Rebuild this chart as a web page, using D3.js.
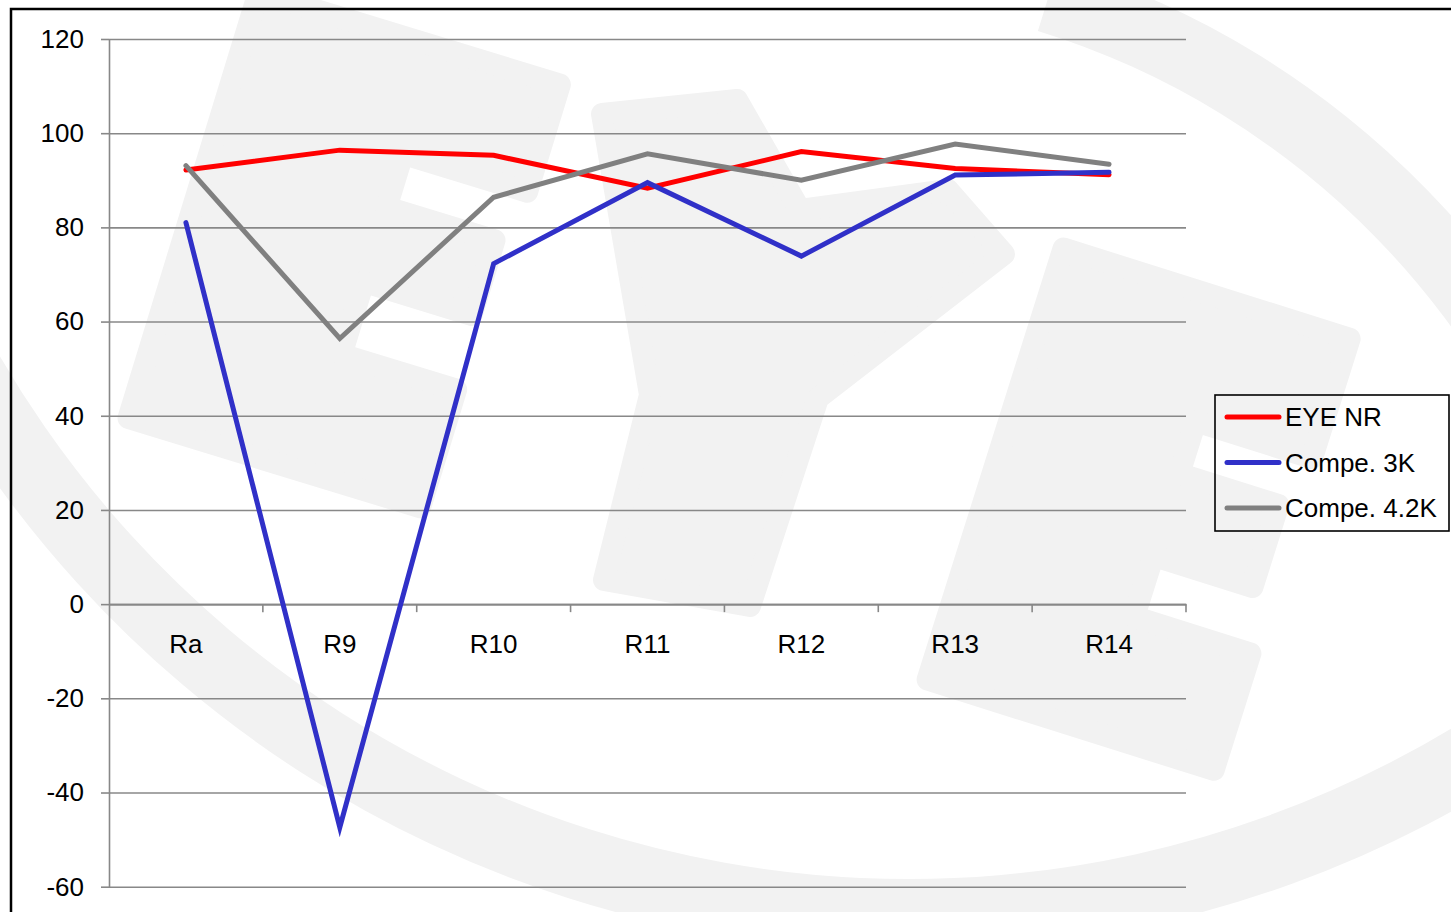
<!DOCTYPE html>
<html>
<head>
<meta charset="utf-8">
<script src="https://cdn.jsdelivr.net/npm/d3@7"></script>
<style>
  body { margin: 0; background: #fff; }
  svg { display: block; font-family: Arial, "Liberation Sans", sans-serif; }
</style>
</head>
<body>
<svg id="chart" width="1451" height="912"></svg>
<script>
// data
const categories = ['Ra', 'R9', 'R10', 'R11', 'R12', 'R13', 'R14'];
const eyeNR    = [92.2, 96.4, 95.3, 88.3, 96.1, 92.5, 91.2];
const compe3K  = [81.0, -47.4, 72.3, 89.5, 73.9, 91.1, 91.7];
const compe42K = [93.1, 56.4, 86.4, 95.6, 90.0, 97.7, 93.4];
const yTicks = [-60, -40, -20, 0, 20, 40, 60, 80, 100, 120];
const seriesNames = ['EYE NR', 'Compe. 3K', 'Compe. 4.2K'];
const seriesColors = ['#ff0000', '#3030c8', '#808080'];

const width = 1451;
const height = 912;
const margin = { top: 39, right: 265, bottom: 25.3, left: 109 };

const svg = d3.select('#chart');

svg.append('rect')
  .attr('width', width)
  .attr('height', height)
  .attr('fill', '#fff');

// faint logo watermark behind everything
const wm = svg.append('g')
  .attr('fill', '#f2f2f2')
  .attr('stroke', '#f2f2f2')
  .attr('stroke-width', 22)
  .attr('stroke-linejoin', 'round');

const ringLow = d3.arc().innerRadius(1052).outerRadius(1124).startAngle(2.4).endAngle(4.5);
wm.append('path')
  .attr('transform', 'translate(909,-173)')
  .attr('stroke', 'none')
  .attr('d', ringLow());

const ringHigh = d3.arc().innerRadius(805).outerRadius(875).startAngle(0.3).endAngle(1.3);
wm.append('path')
  .attr('transform', 'translate(800,800)')
  .attr('stroke', 'none')
  .attr('d', ringHigh());

// letters E Y E
wm.append('path')
  .attr('transform', 'translate(252,-20) rotate(17)')
  .attr('d', 'M10,10H325V122H195V178H308V256H195V332H315V455H10Z');

wm.append('path')
  .attr('d', 'M602,114L737,100L800,210L948,190L1004,254L818,398L750,606L604,580L650,395Z');

wm.append('path')
  .attr('transform', 'translate(1057,236) rotate(17.5)')
  .attr('d', 'M10,10H310V135H188V190H292V276H188V340H310V462H10Z');

// scales
const x = d3.scaleBand()
  .domain(categories)
  .range([margin.left, width - margin.right]);

const y = d3.scaleLinear()
  .domain([-60, 120])
  .range([height - margin.bottom, margin.top]);

// gridlines
svg.append('g')
  .attr('transform', `translate(${margin.left},0)`)
  .call(d3.axisLeft(y).tickValues(yTicks).tickSize(-(x.range()[1] - margin.left)).tickFormat(''))
  .call(g => g.select('.domain').remove())
  .call(g => g.selectAll('line').attr('stroke', '#888').attr('stroke-width', 1.6));

// y axis
svg.append('g')
  .attr('transform', `translate(${margin.left},0)`)
  .call(d3.axisLeft(y).tickValues(yTicks).tickSize(8).tickSizeOuter(0).tickPadding(17)
    .tickFormat(d => String(d)))
  .call(g => g.select('.domain').attr('stroke', '#888').attr('stroke-width', 1.6))
  .call(g => g.selectAll('line').attr('stroke', '#888').attr('stroke-width', 1.6))
  .call(g => g.selectAll('text').attr('font-size', 26).attr('fill', '#000')
    .attr('font-family', 'Arial, "Liberation Sans", sans-serif'));

// x axis on the zero line
const xAxis = svg.append('g')
  .attr('transform', `translate(0,${y(0)})`);

xAxis.call(d3.axisBottom(x).tickSize(0).tickSizeOuter(0))
  .call(g => g.select('.domain').attr('stroke', '#888').attr('stroke-width', 1.6))
  .call(g => g.selectAll('text')
    .attr('font-size', 26)
    .attr('fill', '#000')
    .attr('font-family', 'Arial, "Liberation Sans", sans-serif')
    .attr('y', 49)
    .attr('dy', 0));

// tick marks between categories
const boundaries = categories.slice(1).map(c => x(c)).concat([x.range()[1]]);
xAxis.selectAll('.bound')
  .data(boundaries)
  .enter()
  .append('line')
  .attr('class', 'bound')
  .attr('x1', d => d)
  .attr('x2', d => d)
  .attr('y1', 0)
  .attr('y2', 8)
  .attr('stroke', '#888')
  .attr('stroke-width', 1.6);

// lines
const line = d3.line()
  .x((d, i) => x(categories[i]) + x.bandwidth() / 2)
  .y(d => y(d));

const series = [eyeNR, compe3K, compe42K];

svg.selectAll('.series')
  .data(series)
  .enter()
  .append('path')
  .attr('class', 'series')
  .attr('fill', 'none')
  .attr('stroke', (d, i) => seriesColors[i])
  .attr('stroke-width', 5)
  .attr('stroke-linecap', 'round')
  .attr('d', line);

// outer frame
svg.append('rect')
  .attr('x', 11)
  .attr('y', 9)
  .attr('width', 1500)
  .attr('height', 1000)
  .attr('fill', 'none')
  .attr('stroke', '#000')
  .attr('stroke-width', 2.5);

// legend
const legend = svg.append('g').attr('transform', 'translate(1215,395)');

legend.append('rect')
  .attr('width', 234)
  .attr('height', 136)
  .attr('fill', 'none')
  .attr('stroke', '#000')
  .attr('stroke-width', 1.6);

const items = legend.selectAll('.item')
  .data(seriesNames)
  .enter()
  .append('g')
  .attr('class', 'item')
  .attr('transform', (d, i) => `translate(0,${22 + i * 45.5})`);

items.append('line')
  .attr('x1', 12)
  .attr('x2', 64)
  .attr('stroke', (d, i) => seriesColors[i])
  .attr('stroke-width', 5)
  .attr('stroke-linecap', 'round');

items.append('text')
  .attr('x', 70)
  .attr('y', 9)
  .attr('font-size', 26)
  .attr('fill', '#000')
  .text(d => d);
</script>
</body>
</html>
